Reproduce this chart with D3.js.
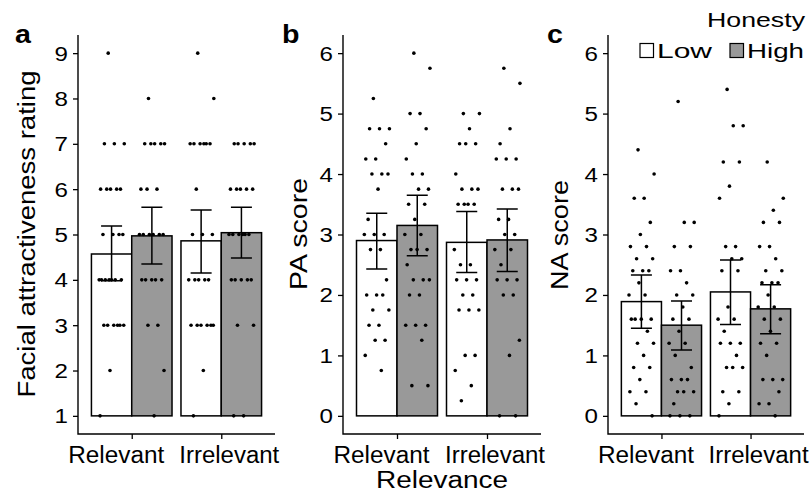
<!DOCTYPE html>
<html>
<head>
<meta charset="utf-8">
<script src="https://cdn.jsdelivr.net/npm/d3@7"></script>
<style>
    html, body { margin: 0; padding: 0; background: #fff; }
    svg { display: block; font-family: "Liberation Sans", Arial, sans-serif; }
</style>
</head>
<body>
<svg id="chart" width="811" height="499"></svg>
<script>
(function () {
    'use strict';

    var relevance = ['Relevant', 'Irrelevant'],
        honesty = ['Low', 'High'];

    var attractTicks = [1, 2, 3, 4, 5, 6, 7, 8, 9],
        scoreTicks = [0, 1, 2, 3, 4, 5, 6];

    // raw ratings, one array per bar (Relevant-Low, Relevant-High, Irrelevant-Low, Irrelevant-High)
    var attractRelLow = [9, 7, 7, 7, 6, 6, 6, 6, 6, 5, 5, 5, 5, 4, 4, 4, 4, 4, 4, 4, 3, 3, 3, 3, 3, 3, 2, 1],
        attractRelHigh = [8, 7, 7, 7, 7, 7, 6, 6, 6, 5, 5, 5, 5, 5, 5, 4, 4, 4, 4, 4, 3, 3, 2, 1],
        attractIrrLow = [9, 8, 7, 7, 7, 7, 7, 7, 6, 5, 5, 5, 4, 4, 4, 4, 4, 3, 3, 3, 3, 3, 3, 2, 1],
        attractIrrHigh = [7, 7, 7, 7, 7, 6, 6, 6, 6, 6, 5, 5, 5, 5, 5, 5, 4, 4, 4, 4, 4, 3, 3, 1, 1];

    var paRelLow = [5.25, 4.75, 4.75, 4.75, 4.5, 4.25, 4.25, 4, 4, 4, 3.75, 3.25, 3, 3, 3, 2.75, 2.75,
            2.25, 2, 2, 2, 1.75, 1.75, 1.5, 1.5, 1.25, 1.25, 1, 0.75],
        paRelHigh = [6, 5.75, 5, 5, 4.75, 4.5, 4.25, 4, 4, 3.75, 3.75, 3.5, 3.5, 3.25, 3, 3, 2.75, 2.75, 2.75,
            2.5, 2.25, 2.25, 2.25, 2, 2, 1.5, 1.5, 1.5, 1.25, 0.5, 0.5],
        paIrrLow = [5, 5, 4.75, 4.5, 4.5, 4.5, 4, 3.75, 3.75, 3.75, 3.5, 3.5, 3.5, 3.5, 2.75, 2.5, 2.5,
            2.25, 2.25, 2.25, 2, 2, 1.75, 1.75, 1.75, 1, 1, 0.75, 0.5, 0.25],
        paIrrHigh = [5.75, 5.5, 4.75, 4.5, 4.25, 4.25, 4.25, 3.75, 3.75, 3.75, 3.25, 3.25, 3, 3, 2.75, 2.75,
            2.5, 2.25, 2.25, 2.25, 2, 2, 1.25, 1, 0, 0];

    var naRelLow = [4.4, 4, 3.6, 3.6, 3.2, 3, 2.8, 2.8, 2.6, 2.6, 2.4, 2.4, 2.4, 2.2, 2, 2, 1.6, 1.6, 1.6, 1.6,
            1.4, 1.2, 1.2, 1, 0.8, 0.8, 0.6, 0.4, 0.4, 0.2, 0],
        naRelHigh = [5.2, 3.2, 3.2, 2.8, 2.8, 2.4, 2.4, 2.2, 2, 2, 1.8, 1.6, 1.6, 1.4, 1.2, 1.2, 1, 0.8,
            0.6, 0.6, 0.6, 0.4, 0.4, 0.4, 0.2, 0, 0, 0],
        naIrrLow = [5.4, 4.8, 4.8, 4.2, 4.2, 3.8, 3.6, 2.8, 2.8, 2.6, 2.6, 2.4, 2.4, 1.8, 1.6, 1.6, 1.4,
            1.2, 1.2, 1.2, 1, 0.8, 0.8, 0.8, 0.4, 0.4, 0.2, 0],
        naIrrHigh = [4.2, 3.6, 3.4, 3.2, 3.2, 2.8, 2.8, 2.6, 2.4, 2.4, 2.2, 2.2, 2.2, 2, 1.8, 1.8, 1.6, 1.6,
            1.4, 1.2, 1.2, 1, 0.6, 0.6, 0.6, 0.4, 0.2, 0.2, 0];

    // bar means and 95% CI, same bar order
    var attractMeans = [4.57, 4.97, 4.86, 5.04],
        attractCiLow = [3.98, 4.35, 4.15, 4.48],
        attractCiHigh = [5.19, 5.60, 5.54, 5.60];

    var paMeans = [2.90, 3.15, 2.87, 2.91],
        paCiLow = [2.43, 2.65, 2.37, 2.39],
        paCiHigh = [3.35, 3.65, 3.38, 3.42];

    var naMeans = [1.89, 1.50, 2.05, 1.77],
        naCiLow = [1.45, 1.09, 1.51, 1.36],
        naCiHigh = [2.33, 1.90, 2.58, 2.17];

    var fills = { Low: '#ffffff', High: '#999999' },
        top = 35,
        bottom = 434,
        // the category labels sit a little off their ticks in the original
        labelShift = { Relevant: -15.5, Irrelevant: 8 },
        labelWidth = { Relevant: 96, Irrelevant: 100 },
        svg = d3.select('#chart');

    function addText(g, str, x, y, size, opts) {
        opts = opts || {};

        var t = g.append('text')
            .attr('transform', 'translate(' + x + ',' + y + ') rotate(' + (opts.rotate || 0) +
                ') scale(' + (opts.stretch || 1) + ',1)')
            .attr('text-anchor', opts.anchor || 'start')
            .style('font-size', size + 'px')
            .style('font-weight', opts.weight || 'normal')
            .attr('fill', '#000')
            .text(str);

        if (opts.width) {
            t.attr('textLength', opts.width).attr('lengthAdjust', 'spacingAndGlyphs');
        }

        return t;
    }

    function bars(means, lows, highs, points) {
        var out = [];

        relevance.forEach(function (r, i) {
            honesty.forEach(function (h, j) {
                var k = i * 2 + j;

                out.push({
                    relevance: r,
                    honesty: h,
                    mean: means[k],
                    low: lows[k],
                    high: highs[k],
                    points: points[k]
                });
            });
        });

        return out;
    }

    function panel(p) {
        var g = svg.append('g'),
            x = d3.scalePoint().domain(relevance).range([p.x0, p.x1]).padding(0.6),
            span = p.domain[1] - p.domain[0],
            y = d3.scaleLinear()
                .domain([p.domain[0] - span * 0.05, p.domain[1] + span * 0.05])
                .range([bottom, top]),
            half = x.step() * 0.45,
            cap = 10.5,
            jitter = 13;

        function barLeft(d) {
            return d.honesty === 'Low' ? x(d.relevance) - half : x(d.relevance);
        }

        function barMid(d) {
            return barLeft(d) + half / 2;
        }

        var bar = g.selectAll('g.bar')
            .data(p.bars)
            .enter()
            .append('g')
            .attr('class', 'bar');

        bar.append('rect')
            .attr('x', barLeft)
            .attr('width', half)
            .attr('y', function (d) { return y(d.mean); })
            .attr('height', function (d) { return y(p.domain[0]) - y(d.mean); })
            .attr('fill', function (d) { return fills[d.honesty]; })
            .attr('stroke', '#000')
            .attr('stroke-width', 1.5);

        // jittered raw points, spread deterministically around bar centre
        bar.selectAll('circle')
            .data(function (d) {
                return d.points.map(function (v, i) {
                    var f = (i * 0.618034 + 0.37) % 1;

                    return { cx: barMid(d) + (f - 0.5) * 2 * jitter, v: v };
                });
            })
            .enter()
            .append('circle')
            .attr('cx', function (d) { return d.cx; })
            .attr('cy', function (d) { return y(d.v); })
            .attr('r', 1.8)
            .attr('fill', '#000');

        bar.append('path')
            .attr('d', function (d) {
                var m = barMid(d);

                return 'M' + (m - cap) + ',' + y(d.high) + 'H' + (m + cap) +
                    'M' + m + ',' + y(d.high) + 'V' + y(d.low) +
                    'M' + (m - cap) + ',' + y(d.low) + 'H' + (m + cap);
            })
            .attr('fill', 'none')
            .attr('stroke', '#000')
            .attr('stroke-width', 1.5);

        // axes
        var yAxis = g.append('g')
            .attr('transform', 'translate(' + p.x0 + ',0)')
            .call(d3.axisLeft(y).tickValues(p.ticks).tickSize(5).tickFormat(''));

        var xAxis = g.append('g')
            .attr('transform', 'translate(0,' + bottom + ')')
            .call(d3.axisBottom(x).tickSize(5).tickFormat(''));

        [yAxis, xAxis].forEach(function (a) {
            a.select('.domain').remove();
            a.selectAll('line').attr('stroke', '#000').attr('stroke-width', 1.3);
        });

        g.append('path')
            .attr('d', 'M' + p.x0 + ',' + top + 'V' + bottom + 'H' + p.x1)
            .attr('fill', 'none')
            .attr('stroke', '#000')
            .attr('stroke-width', 1.4);

        p.ticks.forEach(function (t) {
            addText(g, String(t), p.x0 - 10, y(t) + 7.5, 21, { anchor: 'end', stretch: 1.15 });
        });

        relevance.forEach(function (r) {
            addText(g, r, x(r) + labelShift[r], 463, 23, { anchor: 'middle', width: labelWidth[r] });
        });

        addText(g, p.title, p.titleX, p.titleY, 23, { anchor: 'middle', rotate: -90, width: p.titleW });
        addText(g, p.tag, p.tagX, 43, 26, { weight: 'bold', stretch: 1.1 });
    }

    panel({
        tag: 'a', tagX: 15,
        title: 'Facial attractiveness rating', titleX: 35, titleY: 234, titleW: 327,
        x0: 78, x1: 275,
        domain: [1, 9],
        ticks: attractTicks,
        bars: bars(attractMeans, attractCiLow, attractCiHigh,
            [attractRelLow, attractRelHigh, attractIrrLow, attractIrrHigh])
    });

    panel({
        tag: 'b', tagX: 282,
        title: 'PA score', titleX: 307, titleY: 234, titleW: 112,
        x0: 343, x1: 541,
        domain: [0, 6],
        ticks: scoreTicks,
        bars: bars(paMeans, paCiLow, paCiHigh, [paRelLow, paRelHigh, paIrrLow, paIrrHigh])
    });

    panel({
        tag: 'c', tagX: 547,
        title: 'NA score', titleX: 568, titleY: 235, titleW: 110,
        x0: 608, x1: 804,
        domain: [0, 6],
        ticks: scoreTicks,
        bars: bars(naMeans, naCiLow, naCiHigh, [naRelLow, naRelHigh, naIrrLow, naIrrHigh])
    });

    addText(svg, 'Relevance', 442, 488, 23, { anchor: 'middle', width: 132 });

    // legend
    var legend = svg.append('g');

    addText(legend, 'Honesty', 805, 27, 21, { anchor: 'end', width: 98 });

    var keyX = { Low: 640, High: 730 },
        keyW = { Low: 55, High: 57 };

    honesty.forEach(function (h) {
        legend.append('rect')
            .attr('x', keyX[h])
            .attr('y', 43.5)
            .attr('width', 13.5)
            .attr('height', 14)
            .attr('fill', fills[h])
            .attr('stroke', '#000')
            .attr('stroke-width', 1.2);

        addText(legend, h, keyX[h] + 17, 58, 21, { width: keyW[h] });
    });
}());
</script>
</body>
</html>
